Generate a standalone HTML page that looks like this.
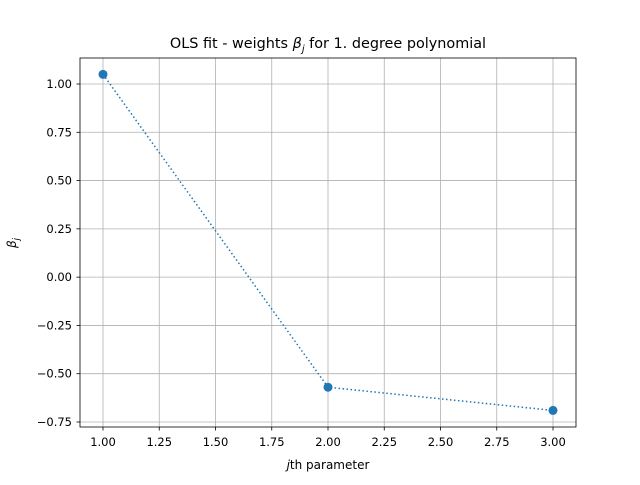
<!DOCTYPE html>
<html><head><meta charset="utf-8"><style>
body{margin:0;background:#fff;}
text{font-family:"DejaVu Sans","Liberation Sans",sans-serif;fill:#000;}
</style></head><body>
<svg id="chart" width="640" height="480">
<rect width="640" height="480" fill="#fff"/>
<g id="grid"></g>
<rect x="80" y="58" width="496" height="369" fill="none" stroke="#000" stroke-width="0.8"/>
<g id="ticks"></g>
<g id="series"></g>
<text x="328" y="48" font-size="14.4" text-anchor="middle">OLS fit - weights <tspan font-style="italic">β</tspan><tspan font-style="italic" font-size="10" dy="4">j</tspan><tspan dy="-4"> for 1. degree polynomial</tspan></text>
<text x="328" y="469" font-size="12" text-anchor="middle"><tspan font-style="italic">j</tspan>th parameter</text>
<text transform="translate(16,243) rotate(-90)" font-size="12" text-anchor="middle"><tspan font-style="italic">β</tspan><tspan font-style="italic" font-size="8.5" dy="3">j</tspan></text>
</svg>
<script>
const xs=[1,2,3];
const betas=[1.05,-0.57,-0.69];
const xTicks=[1.00,1.25,1.50,1.75,2.00,2.25,2.50,2.75,3.00];
const yTicks=[1.00,0.75,0.50,0.25,0.00,-0.25,-0.50,-0.75];
const NS='http://www.w3.org/2000/svg';
function X(v){return 103+(v-1)*225;}
function Y(v){return 84+(1-v)*193.14;}
function mk(t,a,p){const e=document.createElementNS(NS,t);for(const k in a)e.setAttribute(k,a[k]);p.appendChild(e);return e;}
const g=document.getElementById('grid'),tk=document.getElementById('ticks'),s=document.getElementById('series');
xTicks.forEach(v=>{const x=X(v);
const l=mk('line',{x1:x,x2:x,y1:58,y2:427,stroke:'#b0b0b0','stroke-width':0.8},g);


mk('line',{x1:x,x2:x,y1:427,y2:430.5,stroke:'#000','stroke-width':0.8},tk);
const t=mk('text',{x:x,y:446,'font-size':11.5,'text-anchor':'middle'},tk);t.textContent=v.toFixed(2);

});
yTicks.forEach(v=>{const y=Y(v);
const l=mk('line',{x1:80,x2:576,y1:y,y2:y,stroke:'#b0b0b0','stroke-width':0.8},g);


mk('line',{x1:76.5,x2:80,y1:y,y2:y,stroke:'#000','stroke-width':0.8},tk);
const t=mk('text',{x:72,y:y+4,'font-size':11.5,'text-anchor':'end'},tk);t.textContent=(v<0?'−':'')+Math.abs(v).toFixed(2);

});
const pl=mk('polyline',{points:xs.map((x,i)=>X(x)+','+Y(betas[i])).join(' '),fill:'none',stroke:'#1f77b4','stroke-width':1.5,'stroke-dasharray':'1.5,2.5'},s);


xs.forEach((x,i)=>{const c=mk('circle',{cx:X(x),cy:Y(betas[i]),r:4.5,fill:'#1f77b4'},s);

});
</script>
</body></html>
